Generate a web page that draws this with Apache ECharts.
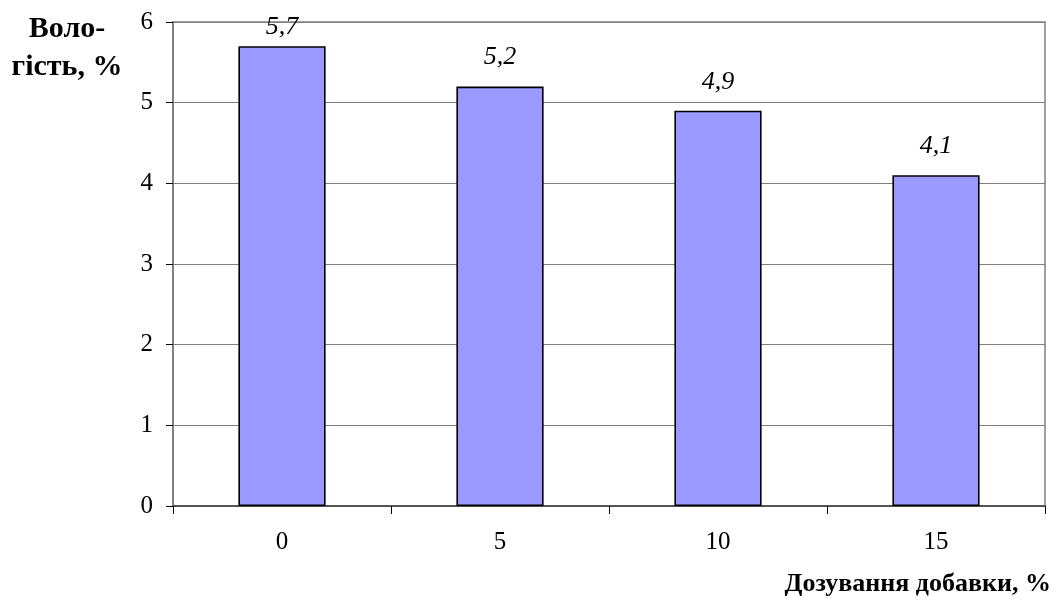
<!DOCTYPE html>
<html>
<head>
<meta charset="utf-8">
<script src="https://cdn.jsdelivr.net/npm/echarts@6/dist/echarts.min.js"></script>
<style>
  html, body { margin: 0; padding: 0; background: #fff; }
  #chart { width: 1058px; height: 600px; }
</style>
</head>
<body>
<div id="chart"></div>
<script>
// Moisture of the product versus additive dosage
const dosage = ['0', '5', '10', '15'];
const moisture = [5.7, 5.2, 4.9, 4.1];
const yTicks = [0, 1, 2, 3, 4, 5, 6];
const yTitleLines = ['Воло-', 'гість, %'];
const xTitle = 'Дозування добавки, %';

const serif = '"Liberation Serif", "Times New Roman", serif';
const yMax = yTicks[yTicks.length - 1];
const chart = echarts.init(document.getElementById('chart'), null, { renderer: 'canvas' });

// value labels sit above the bars; near the top of the plot they are pulled closer
const barData = moisture.map(v => ({
  value: v,
  label: { distance: yMax - v < 0.5 ? 6 : 16 }
}));

chart.setOption({
  animation: false,
  backgroundColor: '#ffffff',
  grid: {
    left: 173, right: 13, top: 22, bottom: 94,
    show: true, borderColor: '#808080', borderWidth: 1.5, backgroundColor: 'transparent'
  },
  graphic: [
    {
      type: 'text', x: 67, y: 29,
      style: { text: yTitleLines[0], align: 'center', verticalAlign: 'middle',
               font: 'bold 30px ' + serif, fill: '#000' }
    },
    {
      type: 'text', x: 67, y: 67,
      style: { text: yTitleLines[1], align: 'center', verticalAlign: 'middle',
               font: 'bold 30px ' + serif, fill: '#000' }
    },
    {
      type: 'text', x: 1051, y: 584,
      style: { text: xTitle, align: 'right', verticalAlign: 'middle',
               font: 'bold 26px ' + serif, fill: '#000' }
    }
  ],
  xAxis: {
    type: 'category',
    data: dosage,
    axisLine: { show: true, lineStyle: { color: '#404040', width: 1.5 } },
    axisTick: { show: true, alignWithLabel: false, length: 8, lineStyle: { color: '#000', width: 1 } },
    axisLabel: { color: '#000', fontFamily: serif, fontSize: 25, margin: 24 },
    splitLine: { show: false }
  },
  yAxis: {
    type: 'value',
    min: yTicks[0], max: yMax, interval: 1,
    axisLine: { show: true, lineStyle: { color: '#808080', width: 2 } },
    axisTick: { show: true, inside: false, length: 7, lineStyle: { color: '#000', width: 1 } },
    axisLabel: { color: '#000', fontFamily: serif, fontSize: 25, margin: 20 },
    splitLine: { show: true, lineStyle: { color: '#808080', width: 1.2 } }
  },
  series: [{
    type: 'bar',
    data: barData,
    barWidth: '40%',
    itemStyle: { color: '#9999FF', borderColor: '#000', borderWidth: 1.6 },
    label: {
      show: true, position: 'top', distance: 16,
      color: '#000', fontFamily: serif, fontStyle: 'italic', fontSize: 26,
      formatter: p => String(p.value).replace('.', ',')
    }
  }]
});
</script>
</body>
</html>
